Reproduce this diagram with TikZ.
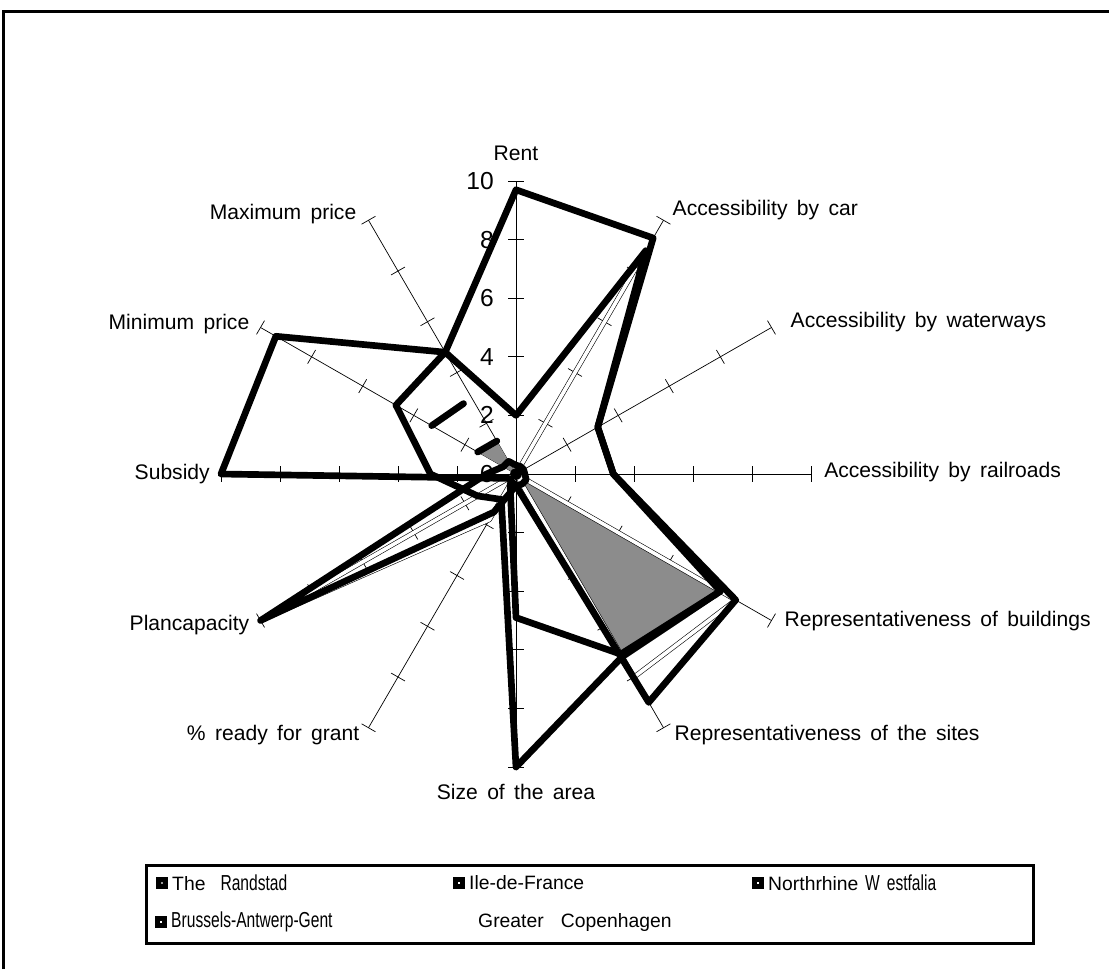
\documentclass[tikz,border=0pt]{standalone}
\usepackage{fontspec}
\setmainfont{Liberation Sans}
\newfontfamily\axfont[WordSpace=2.2]{Liberation Sans}
\newfontfamily\legfont[WordSpace=1.6]{Liberation Sans}
\newfontfamily\legnarrow[FakeStretch=0.72,WordSpace=1.6]{Liberation Sans}
\usetikzlibrary{positioning}

\tikzset{
  frameline/.style={line width=0.09cm},
  axisline/.style={line width=0.6pt},
  seriesline/.style={line width=0.2cm, line join=round, line cap=round},
  gcline/.style={draw=black, line width=0.5pt, double=white, double distance=0.11cm, line join=round},
  grayarea/.style={fill=black!45},
  axislab/.style={font=\axfont\fontsize{18}{21}\selectfont, inner sep=0pt},
  ticklab/.style={font=\fontsize{21}{25}\selectfont, inner sep=0pt, anchor=east},
  legtext/.style={font=\legnarrow\fontsize{18.5}{21}\selectfont, inner sep=0pt, anchor=west},
  legwide/.style={font=\legfont\fontsize{16.5}{19}\selectfont},
  legmark/.style={draw=black, fill=white, line width=0.14cm, minimum size=0.22cm, inner sep=0pt},
}

\begin{document}
\begin{tikzpicture}[x=0.03cm,y=0.03cm]
  \useasboundingbox (0,0) rectangle (1109,-969);
  \draw[frameline] (3,-969) -- (3,-11) -- (1109,-11);

  \begin{scope}[shift={(516,-474)},x=0.885cm,y=0.879cm]
    \coordinate (o) at (0,0);
    % axes and ticks
    \foreach \ang/\nm in {90/rent,60/car,30/water,0/rail,-30/repb,-60/reps,-90/size,-120/ready,-150/plan,180/subsidy,150/minp,120/maxp}{
      \draw[axisline] (o) -- (\ang:10) coordinate (\nm);
      \foreach \v in {2,4,...,10}
        \draw[axisline] (\ang:\v) ++(\ang+90:0.27) -- ++(\ang-90:0.54);
    }
    \foreach \v in {0,2,...,10}
      \node[ticklab] (t\v) at ([xshift=-0.66cm]90:\v) {\v};

    % Brussels-Antwerp-Gent area
    \fill[grayarea] (o) -- (-30:8.0) -- (-60:7.1) -- cycle;
    \fill[grayarea] (o) -- (150:1.5) -- (120:1.3) -- cycle;

    % Greater Copenhagen
    \draw[gcline] (o) -- (60:8.1) -- (o) -- (-30:8.6) -- (-60:8.0) -- (o)
      -- (-120:1.8) -- (-150:10) -- cycle;

    % The Randstad
    \draw[seriesline] (90:9.7) -- (60:9.3) -- (30:3.2) -- (0:3.3) -- (-30:8.6)
      -- (-60:9.0) -- (-90:0.4) -- (-120:0.3) -- (-150:0.3) -- (180:10)
      -- (150:9.4) -- (120:4.8) -- cycle;
    % Ile-de-France
    \draw[seriesline] (90:2) -- (60:8.8) -- (30:3.2) -- (0:3.3) -- (-30:8.0)
      -- (-60:7.2) -- (-90:10) -- (-120:1.0) -- (-150:1.5) -- (180:2.9)
      -- (150:4.7) -- (120:4.8) -- cycle;
    % Northrhine Westfalia
    \draw[seriesline] (90:0.3) -- (60:0.3) -- (30:0.3) -- (0:0.3) -- (-30:0.4)
      -- (-60:0.4) -- (-90:0.4) -- (-120:1.5) -- (-150:10) -- (180:1.0)
      -- (150:0.5) -- (120:0.5) -- cycle;
    \fill (o) circle[radius=0.2];
    % Brussels-Antwerp-Gent outline
    \draw[seriesline] (-30:8.0) -- (-60:7.1) -- (-90:4.9) -- (-120:0.4);
    \draw[seriesline] (150:1.5) -- (120:1.3);
    \draw[seriesline, shorten >=0.3cm] (150:3.3) -- (120:3.0);

    % axis names
    \node[axislab, above=0.6cm of rent] (lrent) {Rent};
    \node[axislab, anchor=west] (lcar) at ([shift={(0.27cm,0.3cm)}]car) {Accessibility by car};
    \node[axislab, anchor=west] (lwater) at ([shift={(0.57cm,0.15cm)}]water) {Accessibility by waterways};
    \node[axislab, anchor=west] (lrail) at ([shift={(0.39cm,0.06cm)}]rail) {Accessibility by railroads};
    \node[axislab, anchor=west] (lrepb) at ([shift={(0.39cm,-0.03cm)}]repb) {Representativeness of buildings};
    \node[axislab, anchor=west] (lreps) at ([shift={(0.33cm,-0.21cm)}]reps) {Representativeness of the sites};
    \node[axislab, anchor=north] (lsize) at ([yshift=-0.5cm]size) {Size of the area};
    \node[axislab, anchor=east] (lready) at ([shift={(-0.27cm,-0.21cm)}]ready) {\% ready for grant};
    \node[axislab, anchor=east] (lplan) at ([shift={(-0.33cm,-0.15cm)}]plan) {Plancapacity};
    \node[axislab, anchor=east] (lsubsidy) at ([shift={(-0.33cm,0cm)}]subsidy) {Subsidy};
    \node[axislab, anchor=east] (lminp) at ([shift={(-0.33cm,0.09cm)}]minp) {Minimum price};
    \node[axislab, anchor=east] (lmaxp) at ([shift={(-0.36cm,0.18cm)}]maxp) {Maximum price};
  \end{scope}

  % legend
  \draw[frameline] (146,-865) rectangle (1033,-943);
  \node[legmark, fill=black!40] (mrand) at (162,-883) {};
  \node[legtext, right=0.12cm of mrand] (trand) {{\legfont\fontsize{16.5}{19}\selectfont The}\hspace{0.45cm}Randstad};
  \node[legmark] (mile) at (459,-883) {};
  \node[legtext, legwide, right=0.12cm of mile] (tile) {Ile-de-France};
  \node[legmark] (mnrw) at (758,-883) {};
  \node[legtext, right=0.12cm of mnrw] (tnrw) {{\legfont\fontsize{16.5}{19}\selectfont Northrhine}\hspace{0.2cm}W estfalia};
  \node[legmark] (mbag) at (161,-922) {};
  \node[legtext, right=0.12cm of mbag] (tbag) {Brussels-Antwerp-Gent};
  \node[legtext, legwide] (tcph) at (478,-922) {Greater\ \ Copenhagen};
\end{tikzpicture}
\end{document}
